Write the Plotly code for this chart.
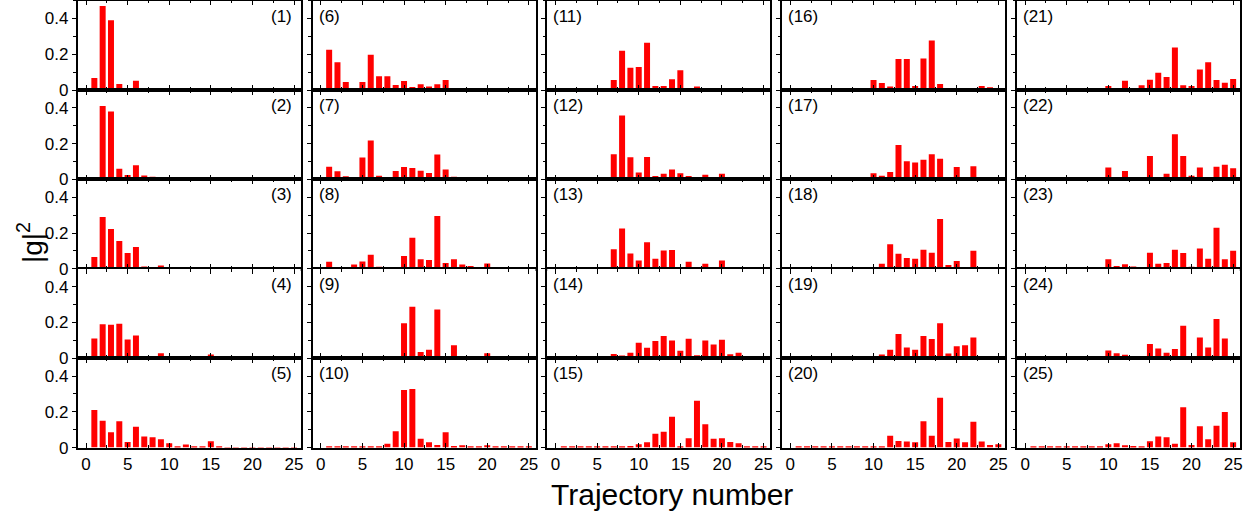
import plotly.graph_objects as go

trajectory = [1, 2, 3, 4, 5, 6, 7, 8, 9, 10, 11, 12, 13, 14, 15, 16, 17, 18, 19, 20, 21, 22, 23, 24, 25]

g1 = [0.067, 0.47, 0.39, 0.034, 0.005, 0.052, 0.008, 0.008, 0.01, 0.003, 0.003, 0.003, 0.003, 0.003, 0.003, 0.003, 0.003, 0.003, 0.003, 0.003, 0.003, 0.003, 0.003, 0.003, 0.003]
g2 = [0.01, 0.41, 0.38, 0.06, 0.024, 0.079, 0.022, 0.015, 0.008, 0.004, 0.003, 0.003, 0.003, 0.003, 0.003, 0.003, 0.003, 0.003, 0.003, 0.003, 0.003, 0.003, 0.003, 0.003, 0.003]
g3 = [0.066, 0.29, 0.223, 0.155, 0.088, 0.122, 0.013, 0.008, 0.019, 0.005, 0.004, 0.004, 0.003, 0.003, 0.008, 0.003, 0.003, 0.003, 0.003, 0.003, 0.003, 0.003, 0.003, 0.003, 0.003]
g4 = [0.11, 0.19, 0.187, 0.193, 0.105, 0.127, 0.011, 0.013, 0.028, 0.011, 0.006, 0.009, 0.006, 0.004, 0.02, 0.003, 0.003, 0.003, 0.003, 0.003, 0.003, 0.003, 0.003, 0.003, 0.003]
g5 = [0.21, 0.15, 0.086, 0.148, 0.032, 0.116, 0.062, 0.058, 0.047, 0.024, 0.007, 0.017, 0.007, 0.007, 0.036, 0.004, 0.002, 0.002, 0.002, 0.002, 0.002, 0.002, 0.002, 0.002, 0.002]
g6 = [0.225, 0.155, 0.045, 0.011, 0.045, 0.197, 0.077, 0.077, 0.028, 0.05, 0.017, 0.032, 0.02, 0.032, 0.056, 0.004, 0.004, 0.004, 0.004, 0.004, 0.004, 0.004, 0.004, 0.004, 0.004]
g7 = [0.071, 0.045, 0.017, 0.009, 0.122, 0.217, 0.02, 0.004, 0.047, 0.069, 0.064, 0.049, 0.036, 0.139, 0.056, 0.015, 0.011, 0.009, 0.006, 0.013, 0.004, 0.004, 0.004, 0.004, 0.004]
g8 = [0.039, 0.006, 0.006, 0.024, 0.041, 0.079, 0.011, 0.006, 0.006, 0.071, 0.174, 0.054, 0.049, 0.296, 0.032, 0.054, 0.024, 0.015, 0.009, 0.03, 0.004, 0.004, 0.004, 0.004, 0.004]
g9 = [0.004, 0.004, 0.004, 0.004, 0.006, 0.011, 0.006, 0.005, 0.009, 0.195, 0.288, 0.034, 0.047, 0.273, 0.009, 0.073, 0.011, 0.007, 0.013, 0.028, 0.003, 0.003, 0.003, 0.003, 0.003]
g10 = [0.003, 0.003, 0.003, 0.003, 0.005, 0.007, 0.007, 0.021, 0.092, 0.322, 0.328, 0.049, 0.03, 0.015, 0.086, 0.009, 0.013, 0.007, 0.007, 0.013, 0.003, 0.003, 0.003, 0.003, 0.003]
g11 = [0.003, 0.003, 0.003, 0.003, 0.003, 0.003, 0.056, 0.219, 0.124, 0.129, 0.264, 0.022, 0.022, 0.06, 0.11, 0.006, 0.019, 0.009, 0.009, 0.007, 0.004, 0.004, 0.004, 0.004, 0.004]
g12 = [0.003, 0.003, 0.003, 0.003, 0.003, 0.003, 0.14, 0.358, 0.124, 0.039, 0.125, 0.019, 0.032, 0.056, 0.034, 0.019, 0.009, 0.026, 0.009, 0.032, 0.004, 0.004, 0.004, 0.004, 0.004]
g13 = [0.003, 0.003, 0.003, 0.003, 0.003, 0.003, 0.109, 0.225, 0.086, 0.047, 0.148, 0.056, 0.103, 0.105, 0.004, 0.039, 0.009, 0.028, 0.006, 0.047, 0.004, 0.007, 0.004, 0.004, 0.004]
g14 = [0.003, 0.003, 0.003, 0.003, 0.003, 0.003, 0.024, 0.015, 0.03, 0.086, 0.058, 0.096, 0.124, 0.099, 0.041, 0.109, 0.017, 0.099, 0.077, 0.103, 0.022, 0.03, 0.009, 0.009, 0.004]
g15 = [0.003, 0.003, 0.003, 0.003, 0.003, 0.003, 0.003, 0.004, 0.009, 0.019, 0.03, 0.077, 0.088, 0.172, 0.006, 0.052, 0.262, 0.131, 0.049, 0.052, 0.032, 0.024, 0.003, 0.003, 0.003]
g16 = [0.003, 0.003, 0.003, 0.003, 0.003, 0.003, 0.003, 0.003, 0.003, 0.056, 0.039, 0.019, 0.174, 0.174, 0.022, 0.176, 0.277, 0.034, 0.011, 0.006, 0.011, 0.011, 0.022, 0.015, 0.011]
g17 = [0.003, 0.003, 0.003, 0.003, 0.003, 0.003, 0.003, 0.003, 0.003, 0.034, 0.021, 0.041, 0.193, 0.101, 0.094, 0.11, 0.14, 0.116, 0.006, 0.069, 0.013, 0.073, 0.004, 0.004, 0.006]
g18 = [0.003, 0.003, 0.003, 0.003, 0.003, 0.003, 0.003, 0.003, 0.003, 0.004, 0.028, 0.137, 0.084, 0.06, 0.056, 0.107, 0.09, 0.279, 0.021, 0.043, 0.009, 0.101, 0.009, 0.004, 0.004]
g19 = [0.003, 0.003, 0.003, 0.003, 0.003, 0.003, 0.003, 0.003, 0.003, 0.007, 0.02, 0.047, 0.135, 0.06, 0.047, 0.124, 0.107, 0.195, 0.026, 0.067, 0.073, 0.116, 0.009, 0.004, 0.004]
g20 = [0.003, 0.003, 0.003, 0.003, 0.003, 0.003, 0.003, 0.003, 0.003, 0.007, 0.007, 0.066, 0.037, 0.034, 0.03, 0.148, 0.066, 0.279, 0.032, 0.051, 0.03, 0.144, 0.034, 0.015, 0.019]
g21 = [0.003, 0.003, 0.003, 0.003, 0.003, 0.003, 0.003, 0.003, 0.003, 0.022, 0.006, 0.052, 0.011, 0.026, 0.058, 0.097, 0.073, 0.238, 0.026, 0.022, 0.114, 0.155, 0.056, 0.041, 0.062]
g22 = [0.003, 0.003, 0.003, 0.003, 0.003, 0.003, 0.003, 0.003, 0.003, 0.067, 0.009, 0.047, 0.011, 0.007, 0.131, 0.011, 0.032, 0.253, 0.131, 0.021, 0.067, 0.006, 0.071, 0.082, 0.062]
g23 = [0.003, 0.003, 0.003, 0.003, 0.003, 0.003, 0.003, 0.003, 0.003, 0.054, 0.015, 0.026, 0.013, 0.004, 0.09, 0.028, 0.032, 0.107, 0.088, 0.011, 0.114, 0.056, 0.229, 0.054, 0.101]
g24 = [0.003, 0.003, 0.003, 0.003, 0.003, 0.003, 0.003, 0.003, 0.003, 0.043, 0.028, 0.019, 0.013, 0.004, 0.079, 0.054, 0.03, 0.051, 0.182, 0.004, 0.116, 0.06, 0.219, 0.11, 0.013]
g25 = [0.003, 0.003, 0.003, 0.003, 0.003, 0.003, 0.003, 0.003, 0.003, 0.019, 0.024, 0.013, 0.009, 0.007, 0.036, 0.062, 0.058, 0.021, 0.225, 0.015, 0.12, 0.047, 0.122, 0.199, 0.03]

panels = [g1, g2, g3, g4, g5, g6, g7, g8, g9, g10, g11, g12, g13, g14, g15,
          g16, g17, g18, g19, g20, g21, g22, g23, g24, g25]
panel_labels = ["(%d)" % i for i in range(1, 26)]
x_ticks = [0, 5, 10, 15, 20, 25]
y_ticks = [0, 0.2, 0.4]

W, H = 1255, 516
FONT = "Liberation Sans, Arial, sans-serif"
col_left = [77.7, 312.5, 547.2, 782.0, 1016.8]
pw = 223.0
row_bottom = [90.0, 179.4, 268.8, 358.2, 447.6]
ph = 89.4
TICKFONT = dict(family=FONT, size=17, color="black")

fig = go.Figure()
layout = {}
annotations = []

for k, vals in enumerate(panels):
    idx = k + 1
    c, r = k // 5, k % 5
    xs = "x" if idx == 1 else "x%d" % idx
    ys = "y" if idx == 1 else "y%d" % idx
    xname = "xaxis" if idx == 1 else "xaxis%d" % idx
    yname = "yaxis" if idx == 1 else "yaxis%d" % idx
    fig.add_trace(go.Bar(x=trajectory, y=vals, width=0.72,
                         marker=dict(color="#ff0000", line=dict(width=0)),
                         xaxis=xs, yaxis=ys, showlegend=False, cliponaxis=False))
    x0 = col_left[c] / W
    x1 = (col_left[c] + pw) / W
    y0 = 1 - row_bottom[r] / H
    y1 = 1 - (row_bottom[r] - ph) / H
    layout[xname] = dict(domain=[x0, x1], anchor=ys, range=[-1, 25.8], automargin=False,
                         showline=True, linecolor="black", linewidth=1.6, mirror="ticks",
                         ticks="inside", ticklen=5, tickwidth=1.3, tickcolor="black",
                         tickvals=x_ticks, showticklabels=(r == 4),
                         minor=dict(ticks="inside", dtick=2.5, tick0=0, ticklen=3, tickwidth=1.2, tickcolor="black"),
                         showgrid=False, zeroline=False, tickfont=TICKFONT)
    layout[yname] = dict(domain=[y0, y1], anchor=xs, range=[0, 0.5], automargin=False,
                         showline=True, linecolor="black", linewidth=1.6, mirror=True,
                         ticks="outside", ticklen=4, tickwidth=1.3, tickcolor="black",
                         tickvals=y_ticks, showticklabels=(c == 0),
                         minor=dict(ticks="outside", dtick=0.1, tick0=0, ticklen=2.5, tickwidth=1.2, tickcolor="black"),
                         showgrid=False, zeroline=False, tickfont=TICKFONT)
    # right-side ticks pointing inward
    layout["yaxis%d" % (25 + idx)] = dict(overlaying=ys, side="right", anchor=xs, range=[0, 0.5],
                                         automargin=False, showline=False, ticks="inside", ticklen=4,
                                         tickwidth=1.3, tickcolor="black", tickvals=y_ticks,
                                         showticklabels=False,
                                         minor=dict(ticks="inside", dtick=0.1, tick0=0, ticklen=2.5, tickwidth=1.2, tickcolor="black"),
                                         showgrid=False, zeroline=False)
    if c == 0:
        annotations.append(dict(text=panel_labels[k], xref=xs + " domain", yref=ys + " domain",
                                x=1, y=1, xanchor="right", yanchor="top", xshift=-7, yshift=-4,
                                showarrow=False, font=dict(family=FONT, size=17, color="black")))
    else:
        annotations.append(dict(text=panel_labels[k], xref=xs + " domain", yref=ys + " domain",
                                x=0, y=1, xanchor="left", yanchor="top", xshift=4, yshift=-4,
                                showarrow=False, font=dict(family=FONT, size=17, color="black")))

annotations.append(dict(text="|g|<sup>2</sup>", xref="paper", yref="paper",
                        x=30 / W, y=1 - 243 / H, xanchor="center", yanchor="middle",
                        textangle=-90, showarrow=False,
                        font=dict(family=FONT, size=28, color="black")))
annotations.append(dict(text="Trajectory number", xref="paper", yref="paper",
                        x=672 / W, y=1 - 494 / H, xanchor="center", yanchor="middle",
                        showarrow=False, font=dict(family=FONT, size=30, color="black")))

fig.update_layout(width=W, height=H, margin=dict(l=0, r=0, t=0, b=0, pad=0),
                  template="none",
                  paper_bgcolor="white", plot_bgcolor="white",
                  annotations=annotations, **layout)

fig.write_html("out.html", config={"displayModeBar": False},
               post_script="document.body.style.margin='0';document.body.style.padding='0';"
                           "document.documentElement.style.overflow='hidden';")
